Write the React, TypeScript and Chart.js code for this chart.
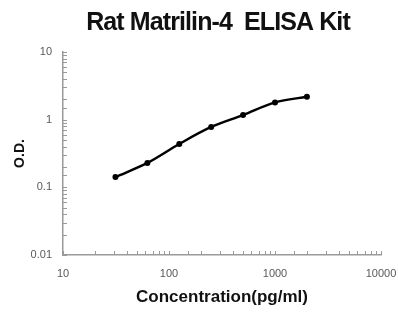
import React, { useEffect, useRef } from "react";
import { Chart, registerables } from "chart.js";

Chart.register(...registerables);

const titleText = "Rat Matrilin-4  ELISA Kit";
const xTitle = "Concentration(pg/ml)";
const yTitle = "O.D.";
const concentrations = [31.25, 62.5, 125, 250, 500, 1000, 2000];
const odValues = [0.142, 0.229, 0.437, 0.78, 1.17, 1.8, 2.18];
const xTickLabels = ["10", "100", "1000", "10000"];
const yTickLabels = ["0.01", "0.1", "1", "10"];

const labelFor = (labels: string[], minExp: number) => (v: number) => {
  const l = Math.log10(v);
  const r = Math.round(l);
  if (Math.abs(l - r) < 1e-6) return labels[r - minExp] ?? "";
  return "";
};

const decor = {
  id: "decor",
  afterDraw(chart: any) {
    const { ctx, chartArea } = chart;
    const xs = chart.scales.x;
    const ys = chart.scales.y;
    ctx.save();
    ctx.strokeStyle = "#9a9a9a";
    ctx.lineWidth = 1;
    xs.ticks.forEach((t: any) => {
      const px = Math.round(xs.getPixelForValue(t.value)) + 0.5;
      ctx.beginPath();
      ctx.moveTo(px, chartArea.bottom);
      ctx.lineTo(px, chartArea.bottom - 4);
      ctx.stroke();
    });
    ys.ticks.forEach((t: any) => {
      const py = Math.round(ys.getPixelForValue(t.value)) + 0.5;
      ctx.beginPath();
      ctx.moveTo(chartArea.left, py);
      ctx.lineTo(chartArea.left + 4, py);
      ctx.stroke();
    });
    ctx.fillStyle = "#111";
    ctx.font = "bold 25px 'Liberation Sans', Arial, sans-serif";
    (ctx as any).letterSpacing = "-0.9px";
    ctx.textAlign = "center";
    ctx.textBaseline = "middle";
    ctx.fillText(titleText, 218, 23);
    ctx.restore();
  },
};

export default function App() {
  const ref = useRef<HTMLCanvasElement>(null);
  useEffect(() => {
    document.body.style.margin = "0";
    const chart = new Chart(ref.current!, {
      type: "line",
      data: {
        datasets: [
          {
            data: concentrations.map((c, i) => ({ x: c, y: odValues[i] })),
            borderColor: "#000",
            backgroundColor: "#000",
            borderWidth: 2.5,
            pointRadius: 3,
            pointBackgroundColor: "#000",
            pointBorderWidth: 0,
            tension: 0.4,
            cubicInterpolationMode: "monotone",
          },
        ],
      },
      plugins: [decor],
      options: {
        animation: false,
        responsive: false,
        maintainAspectRatio: false,
        layout: { padding: { top: 52, right: 0, left: 0, bottom: 0 } },
        plugins: { legend: { display: false }, tooltip: { enabled: false }, title: { display: false } },
        scales: {
          x: {
            type: "logarithmic",
            min: 10,
            max: 10000,
            grid: { display: false },
            border: { display: true, color: "#9a9a9a", width: 1.5 },
            ticks: {
              autoSkip: false,
              maxRotation: 0,
              padding: 4,
              color: "#595959",
              font: { family: "'Liberation Sans', Arial, sans-serif", size: 11 },
              callback: labelFor(xTickLabels, 1) as any,
            },
            title: {
              display: true,
              text: xTitle,
              color: "#111",
              font: { family: "'Liberation Sans', Arial, sans-serif", size: 17, weight: "bold" },
              padding: { top: 0, bottom: 8 },
            },
            afterFit: (s: any) => {
              s.height = 61;
              s.paddingRight = 17;
            },
          },
          y: {
            type: "logarithmic",
            min: 0.01,
            max: 10,
            grid: { display: false },
            border: { display: true, color: "#9a9a9a", width: 1.5 },
            ticks: {
              autoSkip: false,
              padding: 3,
              color: "#595959",
              font: { family: "'Liberation Sans', Arial, sans-serif", size: 11 },
              callback: labelFor(yTickLabels, -2) as any,
            },
            title: {
              display: true,
              text: yTitle,
              color: "#111",
              font: { family: "'Liberation Sans', Arial, sans-serif", size: 14, weight: "bold" },
              padding: { top: 12, bottom: 0 },
            },
            afterFit: (s: any) => {
              s.width = 63;
            },
          },
        },
      } as any,
    });
    return () => chart.destroy();
  }, []);
  return <canvas ref={ref} width={398} height={316} style={{ display: "block" }} />;
}
